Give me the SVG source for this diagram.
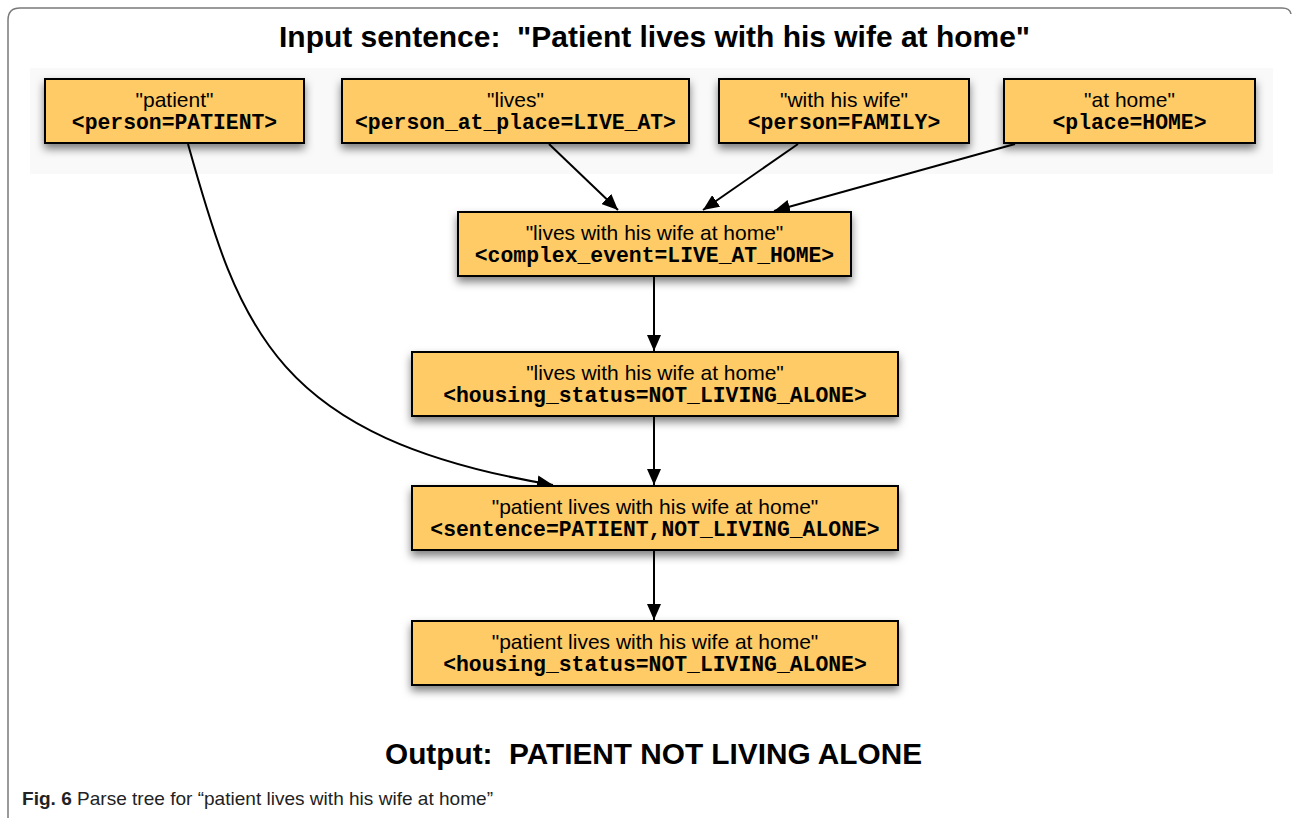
<svg xmlns="http://www.w3.org/2000/svg" width="1292" height="818" viewBox="0 0 1292 818">
<defs>
<filter id="sh" x="-10%" y="-20%" width="120%" height="160%">
<feDropShadow dx="0" dy="5" stdDeviation="4" flood-color="#000" flood-opacity="0.5"/>
</filter>
<marker id="ah" markerUnits="userSpaceOnUse" markerWidth="18" markerHeight="14" refX="16" refY="7" orient="auto">
<path d="M0,0 L16,7 L0,14 Z" fill="#000"/>
</marker>
<style>
.box{fill:#FECB66;stroke:#000;stroke-width:2}
.t1{font-family:"Liberation Sans",Arial,sans-serif;font-size:21px;fill:#000;text-anchor:middle}
.t2{font-family:"Liberation Mono","Courier New",monospace;font-size:21.4px;font-weight:bold;fill:#000;text-anchor:middle}
.hd{font-family:"Liberation Sans",Arial,sans-serif;font-size:29px;font-weight:bold;fill:#000;text-anchor:middle;white-space:pre}
.cn{fill:none;stroke:#000;stroke-width:2}
</style>
</defs>
<rect width="1292" height="818" fill="#fff"/>
<path d="M8,820 L8,20 Q8,8 20,8 L1282,8 Q1290,8 1291,14" fill="none" stroke="#7a7a7a" stroke-width="1.5"/>
<rect x="30" y="68" width="1243" height="106" fill="#f9f9f9"/>
<text class="hd" x="654.5" y="47" xml:space="preserve" textLength="751" lengthAdjust="spacingAndGlyphs">Input sentence:  "Patient lives with his wife at home"</text>
<g id="connectors">
<path class="cn" d="M549,144 L618,210" marker-end="url(#ah)"/>
<path class="cn" d="M798,144 L703,210" marker-end="url(#ah)"/>
<path class="cn" d="M1015,144 L774,211" marker-end="url(#ah)"/>
<path class="cn" d="M654,277 L654,351" marker-end="url(#ah)"/>
<path class="cn" d="M654,417 L654,485" marker-end="url(#ah)"/>
<path class="cn" d="M654,551 L654,620" marker-end="url(#ah)"/>
<path class="cn" d="M188,144 C240,330 275,438 553,485" marker-end="url(#ah)"/>
</g>
<g id="n-patient">
<rect class="box" x="45" y="79" width="259" height="64" filter="url(#sh)"/>
<text class="t1" x="174.5" y="107">"patient"</text>
<text class="t2" x="174.5" y="129">&lt;person=PATIENT&gt;</text>
</g>
<g id="n-lives">
<rect class="box" x="342" y="79" width="347" height="64" filter="url(#sh)"/>
<text class="t1" x="515.5" y="107">"lives"</text>
<text class="t2" x="515.5" y="129">&lt;person_at_place=LIVE_AT&gt;</text>
</g>
<g id="n-wife">
<rect class="box" x="719" y="79" width="250" height="64" filter="url(#sh)"/>
<text class="t1" x="844" y="107">"with his wife"</text>
<text class="t2" x="844" y="129">&lt;person=FAMILY&gt;</text>
</g>
<g id="n-home">
<rect class="box" x="1004" y="79" width="251" height="64" filter="url(#sh)"/>
<text class="t1" x="1129.5" y="107">"at home"</text>
<text class="t2" x="1129.5" y="129">&lt;place=HOME&gt;</text>
</g>
<g id="n-complex">
<rect class="box" x="458" y="212" width="393" height="64" filter="url(#sh)"/>
<text class="t1" x="654.5" y="240">"lives with his wife at home"</text>
<text class="t2" x="654.5" y="262">&lt;complex_event=LIVE_AT_HOME&gt;</text>
</g>
<g id="n-housing1">
<rect class="box" x="412" y="352" width="486" height="64" filter="url(#sh)"/>
<text class="t1" x="655" y="380">"lives with his wife at home"</text>
<text class="t2" x="655" y="402">&lt;housing_status=NOT_LIVING_ALONE&gt;</text>
</g>
<g id="n-sentence">
<rect class="box" x="412" y="486" width="486" height="64" filter="url(#sh)"/>
<text class="t1" x="655" y="514">"patient lives with his wife at home"</text>
<text class="t2" x="655" y="536">&lt;sentence=PATIENT,NOT_LIVING_ALONE&gt;</text>
</g>
<g id="n-housing2">
<rect class="box" x="412" y="621" width="486" height="64" filter="url(#sh)"/>
<text class="t1" x="655" y="649">"patient lives with his wife at home"</text>
<text class="t2" x="655" y="671">&lt;housing_status=NOT_LIVING_ALONE&gt;</text>
</g>
<text class="hd" x="653.5" y="764" xml:space="preserve" textLength="537" lengthAdjust="spacingAndGlyphs">Output:  PATIENT NOT LIVING ALONE</text>
<text x="22" y="805" font-family="'Liberation Sans',Arial,sans-serif" font-size="18.5" fill="#222" textLength="471" lengthAdjust="spacingAndGlyphs"><tspan font-weight="bold">Fig. 6</tspan> Parse tree for “patient lives with his wife at home”</text>
</svg>
